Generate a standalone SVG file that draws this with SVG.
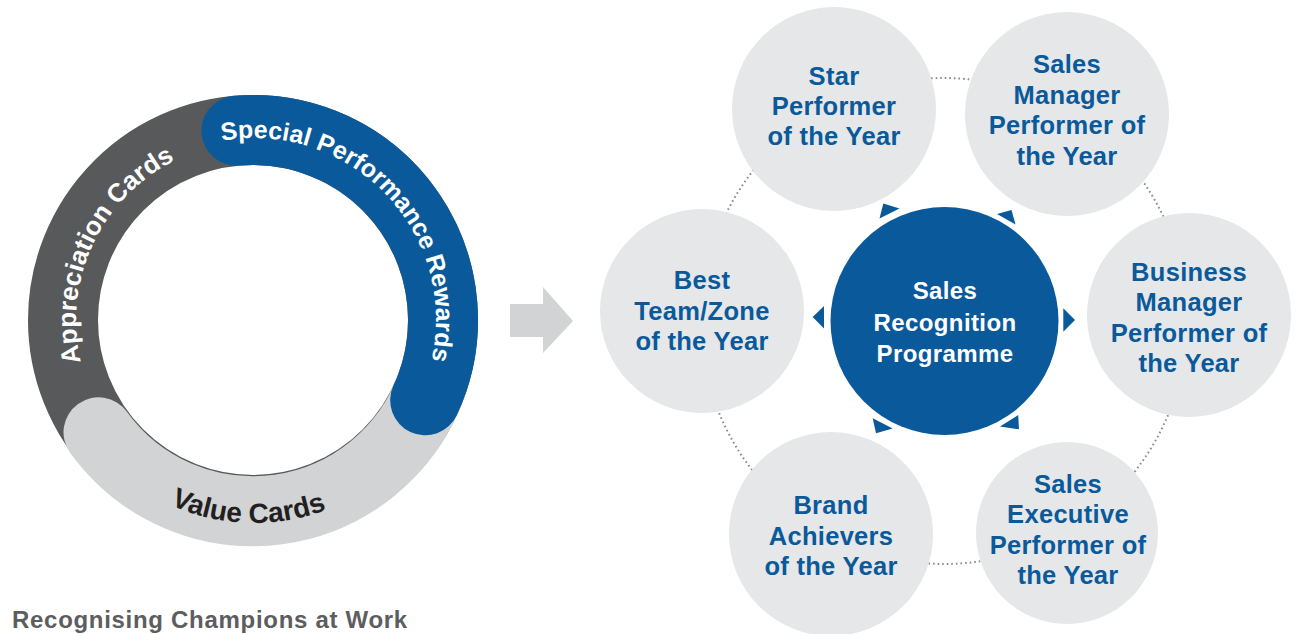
<svg xmlns="http://www.w3.org/2000/svg" width="1299" height="634" viewBox="0 0 1299 634">
<defs>
<style>
.ring{fill:none;stroke-width:70;stroke-linecap:round}
.rt{font-family:"Liberation Sans",Arial,sans-serif;font-weight:700}
.node{fill:#e6e7e8}
.nt{font-family:"Liberation Sans",Arial,sans-serif;font-weight:700;font-size:25.5px;fill:#0a5a9b;text-anchor:middle;letter-spacing:0.3px}
.ct{font-family:"Liberation Sans",Arial,sans-serif;font-weight:700;font-size:24px;fill:#ffffff;text-anchor:middle;letter-spacing:0.4px}
.tri{fill:#0a5a9b}
</style>
<path id="pApp" d="M92.7,395.2 A178,178 0 0 1 207.9,148.1"/>
<path id="pSpec" d="M210.9,143.2 A182,182 0 0 1 428.7,371.1"/>
<path id="pVal" d="M75.3,416.2 A203,203 0 0 0 426.7,426.7"/>
</defs>
<rect width="1299" height="634" fill="#ffffff"/>

<g id="ring">
<circle cx="253" cy="320" r="190" fill="none" stroke="#58595b" stroke-width="70"/>
<path class="ring" stroke="#d1d3d4" d="M98.5,432.3 A190,190 0 0 0 431.5,385.3"/>
<path class="ring" stroke="#0a5a9b" d="M236.4,130.7 A190,190 0 0 1 425.2,400.3"/>
<text class="rt" font-size="26" fill="#ffffff"><textPath href="#pApp" startOffset="50%" text-anchor="middle">Appreciation Cards</textPath></text>
<text class="rt" font-size="25" fill="#ffffff"><textPath href="#pSpec" startOffset="50%" text-anchor="middle">Special Performance Rewards</textPath></text>
<text class="rt" font-size="28" fill="#231f20"><textPath href="#pVal" startOffset="50%" text-anchor="middle">Value Cards</textPath></text>
</g>

<g id="arrow">
<polygon fill="#d1d3d4" points="510,304 543,304 543,287 573,321 543,353 543,337 510,337"/>
</g>

<g id="connectors">
<circle cx="944" cy="321" r="243" fill="none" stroke="#8a8c8e" stroke-width="2" stroke-dasharray="1.6 3"/>
</g>

<g id="node-star">
<circle class="node" cx="834" cy="109" r="102"/>
<text class="nt"><tspan x="834" y="85">Star</tspan><tspan x="834" y="115">Performer</tspan><tspan x="834" y="145">of the Year</tspan></text>
</g>
<g id="node-sales-manager">
<circle class="node" cx="1067" cy="114" r="102"/>
<text class="nt"><tspan x="1067" y="73">Sales</tspan><tspan x="1067" y="104">Manager</tspan><tspan x="1067" y="134">Performer of</tspan><tspan x="1067" y="165">the Year</tspan></text>
</g>
<g id="node-business-manager">
<circle class="node" cx="1189" cy="315" r="102"/>
<text class="nt"><tspan x="1189" y="281">Business</tspan><tspan x="1189" y="311">Manager</tspan><tspan x="1189" y="342">Performer of</tspan><tspan x="1189" y="372">the Year</tspan></text>
</g>
<g id="node-best-team">
<circle class="node" cx="702" cy="311" r="102"/>
<text class="nt"><tspan x="702" y="289">Best</tspan><tspan x="702" y="320">Team/Zone</tspan><tspan x="702" y="350">of the Year</tspan></text>
</g>
<g id="node-brand">
<circle class="node" cx="831" cy="534" r="102"/>
<text class="nt"><tspan x="831" y="514">Brand</tspan><tspan x="831" y="545">Achievers</tspan><tspan x="831" y="575">of the Year</tspan></text>
</g>
<g id="node-sales-executive">
<circle class="node" cx="1067" cy="533" r="91"/>
<text class="nt"><tspan x="1068" y="493">Sales</tspan><tspan x="1068" y="523">Executive</tspan><tspan x="1068" y="554">Performer of</tspan><tspan x="1068" y="584">the Year</tspan></text>
</g>

<g id="node-center">
<circle cx="944.5" cy="321" r="114" fill="#0a5a9b"/>
<g class="tri">
<polygon points="812.7,317 824,306 824,328.5"/>
<polygon points="1075,320 1063.3,308.3 1063.3,331.7"/>
<polygon points="883.3,203.5 899.5,208.5 879.5,218.5"/>
<polygon points="997,214 1011.5,210 1015.5,224.5"/>
<polygon points="872.7,418.3 892.7,428.5 876,433.3"/>
<polygon points="1000,426.5 1018.2,415 1019,429.3"/>
</g>
<text class="ct"><tspan x="945" y="299">Sales</tspan><tspan x="945" y="331">Recognition</tspan><tspan x="945" y="362">Programme</tspan></text>
</g>

<g id="caption">
<text x="12" y="628" font-family="'Liberation Sans',Arial,sans-serif" font-weight="700" font-size="24" letter-spacing="0.7" fill="#5d5d5f">Recognising Champions at Work</text>
</g>
</svg>
